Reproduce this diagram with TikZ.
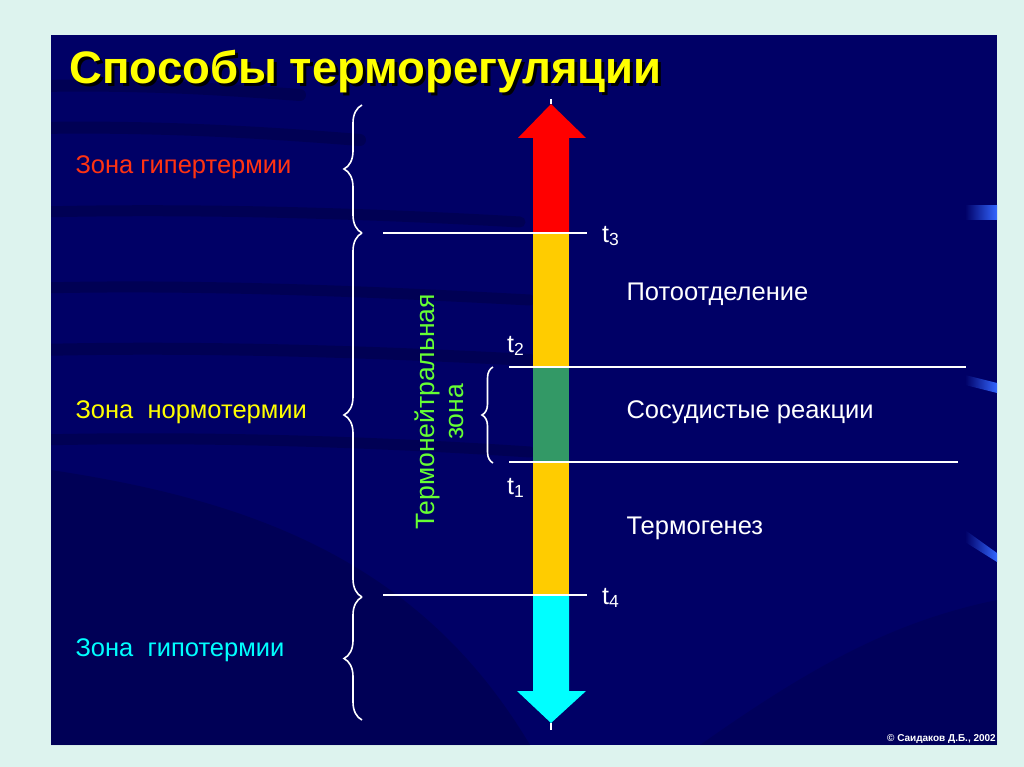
\documentclass[tikz,border=0pt]{standalone}
\usepackage{fontspec}
\setmainfont{Liberation Sans}
\usetikzlibrary{decorations.pathreplacing,calc}

\definecolor{frame}{HTML}{DDF3EE}
\definecolor{panel}{HTML}{000066}
\definecolor{streak}{HTML}{000033}
\definecolor{hot}{HTML}{FF0000}
\definecolor{warm}{HTML}{FFCC00}
\definecolor{neutral}{HTML}{339966}
\definecolor{cold}{HTML}{00FFFF}
\definecolor{titlecol}{HTML}{FFFF00}
\definecolor{hypertext}{HTML}{FF3311}
\definecolor{zonegreen}{HTML}{66FF33}
\definecolor{glint}{HTML}{3366FF}

\tikzset{
  zonelabel/.style={anchor=west, font=\fontsize{25.5}{30}\selectfont},
  reaction/.style={anchor=west, white, font=\fontsize{25.5}{30}\selectfont},
  tlabel/.style={anchor=west, white, inner sep=0pt, font=\fontsize{25}{30}\selectfont},
  level/.style={white, line width=2pt},
  bigbrace/.style={white, line width=1.6pt, decorate, decoration={brace, amplitude=18pt}},
  smallbrace/.style={white, line width=1.6pt, decorate, decoration={brace, amplitude=11pt}},
  darkband/.style={streak, line cap=round, opacity=0.35}
}

\begin{document}
\begin{tikzpicture}[x=1pt, y=-1pt]
\useasboundingbox (0,0) rectangle (1024,767);
% background and panel
\fill[frame] (0,0) rectangle (1024,767);
\fill[panel] (51,35) rectangle (997,745);

% dark streaks across the panel
\begin{scope}
  \clip (51,35) rectangle (997,745);
  \draw[darkband, line width=12pt] (40,86) .. controls (150,84) and (230,90) .. (300,95);
  \draw[darkband, line width=12pt] (40,128) .. controls (150,126) and (260,132) .. (360,140);
  \draw[darkband, line width=11pt] (40,212) .. controls (200,208) and (380,214) .. (520,222);
  \draw[darkband, line width=11pt] (40,288) .. controls (200,284) and (380,292) .. (530,300);
  \draw[darkband, line width=12pt] (40,350) .. controls (200,346) and (380,352) .. (530,360);
  \draw[darkband, line width=11pt] (40,440) .. controls (200,436) and (380,442) .. (530,452);
  \fill[streak, opacity=0.3] (51,470) .. controls (250,500) and (420,560) .. (530,745) -- (51,745) -- cycle;
  \fill[streak, opacity=0.2] (700,745) .. controls (820,660) and (900,620) .. (997,600) -- (997,745) -- cycle;
\end{scope}

% blue glints on the right edge
\shade[left color=panel, right color=glint] (965,206) rectangle (997,220);
\shade[left color=panel, right color=glint] (965,375) -- (997,383) -- (997,393) -- (965,385) -- cycle;
\shade[left color=panel, right color=glint] (965,530) -- (997,553) -- (997,562) -- (965,542) -- cycle;

% title with shadow
\node[anchor=west, black, font=\bfseries\fontsize{45.5}{50}\selectfont] at (69,75) {Способы терморегуляции};
\node (title) [anchor=west, titlecol, font=\bfseries\fontsize{45.5}{50}\selectfont] at (66,72) {Способы терморегуляции};

% level coordinates
\coordinate (t3L) at (383,233);
\coordinate (t3R) at (587,233);
\coordinate (t4L) at (383,595);
\coordinate (t4R) at (587,595);
\coordinate (t2L) at (509,367);
\coordinate (t2R) at (966,367);
\coordinate (t1L) at (509,462);
\coordinate (t1R) at (958,462);

% the temperature arrow
\fill[hot] (533,233) -- (533,138) -- (518,138) -- (551,104) -- (586,138) -- (569,138) -- (569,233) -- cycle;
\fill[warm] (533,233) rectangle (569,367);
\fill[neutral] (533,367) rectangle (569,462);
\fill[warm] (533,462) rectangle (569,595);
\fill[cold] (533,595) -- (533,691) -- (517,691) -- (551,723) -- (586,691) -- (569,691) -- (569,595) -- cycle;
\draw[white, line width=1.5pt] (551,99) -- (551,104);
\draw[white, line width=1.5pt] (551,723) -- (551,730);

% levels
\draw[level] (t3L) -- (t3R);
\draw[level] (t4L) -- (t4R);
\draw[level] (t2L) -- (t2R);
\draw[level] (t1L) -- (t1R);

\node (t3) [tlabel] at (602,236) {t\textsubscript{3}};
\node (t2) [tlabel] at (507,346) {t\textsubscript{2}};
\node (t1) [tlabel] at (507,488) {t\textsubscript{1}};
\node (t4) [tlabel] at (602,598) {t\textsubscript{4}};

% braces for the zones
\draw[bigbrace] (362,233) -- (362,105);
\draw[bigbrace] (362,597) -- (362,233);
\draw[bigbrace] (362,720) -- (362,597);
\draw[smallbrace] (493,463) -- (493,367);

% zone names
\node (hyper) [zonelabel, hypertext] at (72,167) {Зона гипертермии};
\node (normo) [zonelabel, titlecol] at (72,412) {Зона\ \ нормотермии};
\node (hypo) [zonelabel, cold] at (72,650) {Зона\ \ гипотермии};

\node (neutral) [rotate=90, zonegreen, align=center, font=\fontsize{26.5}{29}\selectfont] at (439,412) {Термонейтральная\\зона};

% reactions
\node (sweat) [reaction] at (623,294) {Потоотделение};
\node (vessel) [reaction] at (623,412) {Сосудистые реакции};
\node (thermo) [reaction] at (623,528) {Термогенез};

\node (copy) [anchor=south east, white, inner sep=1pt, font=\bfseries\fontsize{10}{11}\selectfont] at (997,745) {© Саидаков Д.Б., 2002};
\end{tikzpicture}
\end{document}
